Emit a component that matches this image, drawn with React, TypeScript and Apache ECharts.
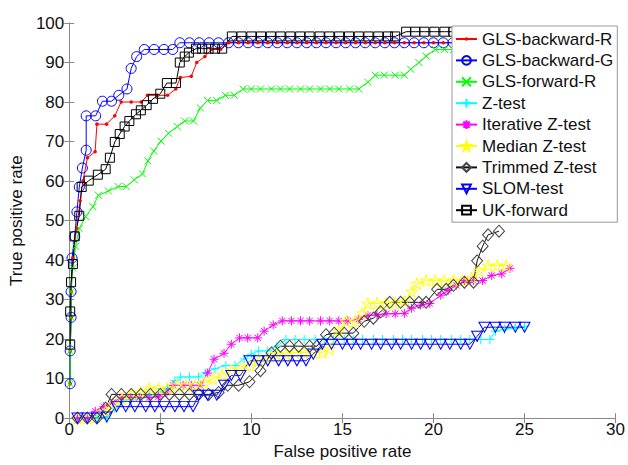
import React, { useEffect, useRef } from "react";
import * as echarts from "echarts";

type Pt = [number, number];

// ROC points: [false positive rate, true positive rate]
const glsBackwardR: Pt[] = [
  [0.05, 8.7], [0.05, 17], [0.1, 25.5], [0.1, 32], [0.2, 40.5], [0.4, 48], [0.6, 55], [0.75, 60],
  [1.0, 65.9], [1.42, 67.4], [1.52, 74.4], [2.05, 74.4], [2.5, 76.5], [2.85, 80], [3.4, 80], [3.95, 80],
  [4.3, 81.7], [4.85, 81.7], [5.4, 81.7], [5.85, 83.3], [6.1, 86.2], [6.7, 86.5], [7.0, 90], [7.45, 91.5],
  [7.8, 93.3], [8.3, 93.3], [8.75, 95], [9.29, 95], [9.82, 95], [10.36, 95], [10.9, 95], [11.43, 95],
  [11.97, 95], [12.5, 95], [13.04, 95], [13.57, 95], [14.1, 95], [14.65, 95], [15.18, 95], [15.72, 95],
  [16.25, 95], [16.8, 95], [17.33, 95], [17.86, 95], [18.4, 95], [18.94, 95], [19.47, 95], [20.0, 95],
  [20.54, 95], [21.08, 95], [21.6, 95], [22.15, 95], [22.7, 95], [23.2, 95], [23.75, 95], [24.3, 95],
];

const glsBackwardG: Pt[] = [
  [0.05, 8.7], [0.05, 17], [0.1, 25.5], [0.1, 32], [0.15, 40.5], [0.3, 46], [0.42, 52.2], [0.55, 58.5],
  [0.72, 63.3], [0.93, 67.8], [0.93, 76.5], [1.45, 76.5], [1.82, 80.2], [2.32, 80.2], [2.72, 81.7],
  [3.17, 83.3], [3.4, 88.5], [3.7, 91.5], [4.12, 93.3], [4.66, 93.3], [5.2, 93.3], [5.68, 93.3],
  [6.07, 95], [6.6, 95], [7.14, 95], [7.68, 95], [8.2, 95], [8.75, 95], [9.29, 95], [9.82, 95],
  [10.36, 95], [10.9, 95], [11.43, 95], [11.97, 95], [12.5, 95], [13.04, 95], [13.57, 95], [14.1, 95],
  [14.65, 95], [15.18, 95], [15.72, 95], [16.25, 95], [16.8, 95], [17.33, 95], [17.86, 95], [18.4, 95],
  [18.94, 95], [19.47, 95], [20.0, 95], [20.54, 95], [21.08, 95], [21.6, 95], [22.15, 95], [22.7, 95],
  [23.2, 95], [23.75, 95], [24.3, 95],
];

const glsForwardR: Pt[] = [
  [0.05, 8.7], [0.05, 17], [0.1, 25.5], [0.1, 32], [0.2, 38], [0.35, 43.5], [0.55, 48], [0.9, 51],
  [1.3, 53.5], [1.6, 56.4], [2.15, 57.5], [2.68, 58.6], [3.13, 58.6], [3.57, 60.3], [4.02, 61.8],
  [4.32, 65.1], [4.64, 67.6], [5.04, 70.1], [5.45, 72.1], [5.93, 73.8], [6.34, 75.2], [6.82, 75.2],
  [7.2, 78.5], [7.59, 80.4], [8.1, 80.4], [8.57, 81.7], [9.06, 81.7], [9.55, 83.3], [10.0, 83.3],
  [10.5, 83.3], [11.1, 83.3], [11.6, 83.3], [12.1, 83.3], [12.7, 83.3], [13.2, 83.3], [13.8, 83.3],
  [14.3, 83.3], [14.8, 83.3], [15.4, 83.3], [15.9, 83.3], [16.4, 85], [16.8, 86.8], [17.3, 86.8],
  [17.9, 86.8], [18.4, 86.8], [18.75, 88.3], [19.2, 90], [19.6, 91.6], [20.1, 93.3], [20.6, 93.3],
  [21.1, 93.3], [21.6, 95], [22.2, 95], [22.7, 95], [23.2, 95], [23.8, 95],
];

const zTest: Pt[] = [
  [0.45, 0], [0.99, 0], [1.52, 0], [2.06, 0], [2.5, 2.5], [2.9, 4.6], [3.4, 4.6], [3.9, 5], [4.4, 5.8],
  [4.9, 6.5], [5.4, 7.5], [5.8, 9.5], [6.1, 10.4], [6.6, 10.4], [7.1, 10.4], [7.5, 11.5], [8.0, 12.5],
  [8.6, 13.3], [9.1, 13.3], [9.6, 15], [10.0, 16.2], [10.4, 17], [10.9, 17], [11.4, 18.2], [11.9, 19.9],
  [12.4, 19.9], [12.9, 19.9], [13.5, 19.9], [14.0, 19.9], [14.5, 19.9], [15.1, 19.9], [15.6, 19.9],
  [16.1, 19.9], [16.7, 19.9], [17.2, 19.9], [17.8, 19.9], [18.3, 19.9], [18.8, 19.9], [19.4, 19.9],
  [19.9, 19.9], [20.4, 19.9], [21.0, 19.9], [21.5, 19.9], [22.0, 19.9], [22.6, 19.9], [23.1, 19.9],
  [23.4, 22], [23.9, 22.5], [24.5, 22.8], [25.0, 23.2],
];

const iterativeZ: Pt[] = [
  [0.45, 0], [0.99, 0], [1.43, 1.7], [1.9, 2.9], [2.4, 4], [2.86, 5.2], [3.35, 5.2], [3.85, 5.2],
  [4.38, 5.2], [4.9, 5.4], [5.36, 6.6], [5.7, 8.3], [6.25, 8.3], [6.7, 8.3], [7.2, 8.3], [7.6, 11.4],
  [7.95, 14.9], [8.5, 16.4], [8.9, 18.7], [9.35, 20.3], [9.8, 20.3], [10.35, 20.3], [10.7, 22],
  [11.2, 23.6], [11.7, 24.6], [12.2, 24.6], [12.7, 24.6], [13.2, 24.6], [13.8, 24.6], [14.3, 24.6],
  [14.8, 24.6], [15.3, 24.6], [15.9, 25], [16.4, 26], [16.9, 26.1], [17.4, 26.4], [17.9, 26.4],
  [18.4, 26.5], [18.8, 27.8], [19.3, 28.6], [19.8, 29], [20.4, 31.1], [20.8, 32.3], [21.25, 33.6],
  [21.7, 34.8], [22.2, 34.8], [22.7, 34.8], [23.2, 36.1], [23.75, 36.5], [24.2, 37.9],
];

const medianZ: Pt[] = [
  [0.45, 0], [0.99, 0], [1.5, 0.5], [2.0, 1.7], [2.4, 3.5], [2.9, 5], [3.4, 5.8], [3.9, 6.5],
  [4.4, 7.5], [4.9, 7.5], [5.4, 7.5], [5.9, 8.3], [6.4, 8.3], [6.9, 8.3], [7.4, 9], [7.9, 10],
  [8.4, 11], [8.9, 12], [9.4, 12.5], [9.9, 13.3], [10.4, 14.5], [10.9, 15.5], [11.4, 16.2],
  [11.9, 16.2], [12.4, 16.6], [12.9, 16.6], [13.4, 16.6], [13.9, 16.6], [14.3, 17.5], [14.8, 22],
  [15.2, 24.5], [15.7, 24.5], [16.1, 26.5], [16.4, 29], [16.9, 29], [17.4, 29], [17.9, 29],
  [18.4, 29.5], [18.8, 32], [19.1, 34], [19.6, 34.8], [20.1, 34.8], [20.6, 34.8], [21.1, 34.8],
  [21.6, 34.8], [22.1, 35.5], [22.5, 37.3], [23.0, 38.6], [23.5, 38.6], [24.0, 38.6],
];

const trimmedZ: Pt[] = [
  [0.45, 0], [0.99, 0], [1.52, 0], [2.0, 2.5], [2.32, 6], [2.86, 6], [3.4, 6], [3.93, 6], [4.45, 6],
  [5.0, 6], [5.5, 6], [6.05, 6], [6.6, 6], [7.1, 6], [7.65, 6], [8.2, 6.5], [8.7, 8.3], [9.3, 8.3],
  [9.9, 9.2], [10.5, 12], [11.1, 16.5], [11.6, 18.2], [12.1, 18.2], [12.6, 18.2], [13.2, 18.2],
  [13.6, 18.2], [14.1, 21.1], [14.55, 21.5], [15.1, 21.5], [15.6, 21.5], [16.2, 24.5], [16.7, 25.3],
  [17.1, 26.9], [17.6, 29.3], [18.2, 29.3], [18.7, 29.3], [19.2, 29.3], [19.6, 29.3], [20.2, 32.6],
  [20.7, 32.6], [21.1, 33.6], [21.7, 34.4], [22.2, 34.4], [22.4, 39.8], [22.7, 43.5], [23.0, 46.4],
  [23.6, 47.3],
];

const slomTest: Pt[] = [
  [0.45, 0], [0.99, 0], [1.52, 0], [2.06, 0.3], [2.6, 2.9], [3.1, 2.9], [3.6, 2.9], [4.2, 2.9],
  [4.7, 2.9], [5.2, 2.9], [5.8, 2.9], [6.3, 2.9], [6.8, 2.9], [7.1, 5.8], [7.6, 5.8], [8.1, 5.8],
  [8.5, 8.3], [8.9, 10.8], [9.4, 10.8], [9.9, 14.5], [10.4, 14.5], [10.9, 14.5], [11.5, 14.5],
  [12.0, 14.5], [12.5, 14.5], [13.0, 14.5], [13.4, 16.2], [13.9, 18.7], [14.4, 18.7], [15.0, 18.7],
  [15.5, 18.7], [16.0, 18.7], [16.6, 18.7], [17.1, 18.7], [17.7, 18.7], [18.2, 18.7], [18.8, 18.7],
  [19.3, 18.7], [19.8, 18.7], [20.4, 18.7], [20.9, 18.7], [21.5, 18.7], [22.0, 18.7], [22.4, 20.7],
  [22.8, 23], [23.4, 23], [23.9, 23], [24.5, 23], [25.0, 23],
];

const ukForward: Pt[] = [
  [0.05, 18.6], [0.05, 27], [0.1, 34.4], [0.2, 39], [0.3, 46], [0.55, 51.2], [0.68, 58.5], [1.07, 60.1],
  [1.57, 61.6], [2.0, 63], [2.23, 65.9], [2.5, 69.9], [2.77, 71.9], [3.04, 73.8], [3.3, 75.2],
  [3.66, 76.9], [3.93, 77.9], [4.25, 79.2], [4.6, 80.8], [5.0, 82.1], [5.36, 84.8], [5.86, 84.8],
  [6.07, 90], [6.34, 91.5], [6.57, 92.5], [6.96, 93.5], [7.3, 93.5], [7.65, 93.5], [8.0, 93.5],
  [8.4, 93.5], [8.93, 96.6], [9.46, 96.6], [10.0, 96.6], [10.53, 96.6], [11.07, 96.6], [11.6, 96.6],
  [12.14, 96.6], [12.68, 96.6], [13.2, 96.6], [13.75, 96.6], [14.28, 96.6], [14.82, 96.6],
  [15.36, 96.6], [15.9, 96.6], [16.43, 96.6], [16.97, 96.6], [17.5, 96.6], [17.9, 96.6], [18.5, 97.8],
  [19.0, 97.8], [19.5, 97.8], [20.05, 97.8], [20.6, 97.8], [21.1, 97.8], [21.65, 97.8], [22.2, 97.8],
  [22.7, 97.8], [23.25, 97.8], [23.8, 97.8],
];

const FONT = "'Liberation Sans', Arial, sans-serif";
const AXIS_GREY = "#8a8a8a";

// Marker outlines. The dot keeps an empty frame so that it stays small in the legend too.
const SYM_DOT = "path://M0,0M10,10M3,5A2,2,0,1,1,7,5A2,2,0,1,1,3,5Z";
const SYM_CROSS = "path://M0,0L10,10M10,0L0,10";
const SYM_PLUS = "path://M5,0L5,10M0,5L10,5";
const SYM_STAR = "path://M5,0L5,10M0,5L10,5M1.5,1.5L8.5,8.5M8.5,1.5L1.5,8.5";
const SYM_PENTAGRAM =
  "path://M5,0L6.18,3.62L10,3.62L6.91,5.86L8.09,9.51L5,7.26L1.91,9.51L3.09,5.86L0,3.62L3.82,3.62Z";
const SYM_TRI_DOWN = "path://M0,0L10,0L5,8.66Z";

function lineSeries(
  name: string,
  data: Pt[],
  color: string,
  symbol: string,
  size: number | number[],
  opts: { filled?: boolean; markerColor?: string } = {}
) {
  const mc = opts.markerColor || color;
  return {
    name,
    type: "line",
    data,
    symbol,
    symbolSize: size,
    showAllSymbol: true,
    clip: true,
    lineStyle: { color, width: 1 },
    itemStyle: opts.filled
      ? { color: mc }
      : { color: "rgba(255,255,255,0)", borderColor: mc, borderWidth: 1 },
    emphasis: { disabled: true },
  };
}

function App() {
  const ref = useRef<HTMLDivElement>(null);

  useEffect(() => {
    if (!ref.current) return;
    const chart = echarts.init(ref.current, null, { renderer: "svg" });

    const tickLabel = { fontFamily: FONT, fontSize: 17, color: "#111" };
    const axisBase = {
      type: "value",
      axisLine: { show: true, lineStyle: { color: AXIS_GREY, width: 1 } },
      axisTick: { show: true, inside: true, length: 5, lineStyle: { color: AXIS_GREY } },
      splitLine: { show: false },
    };

    chart.setOption({
      animation: false,
      backgroundColor: "#ffffff",
      grid: { left: 63, right: 5, top: 23, bottom: 40 },
      xAxis: [
        {
          ...axisBase,
          position: "bottom",
          min: 0,
          max: 30,
          interval: 5,
          axisLabel: { ...tickLabel, margin: 3 },
          name: "False positive rate",
          nameLocation: "middle",
          nameGap: 19,
          nameTextStyle: { fontFamily: FONT, fontSize: 17, color: "#111" },
        },
        {
          ...axisBase,
          position: "top",
          min: 0,
          max: 30,
          interval: 5,
          axisLabel: { show: false },
        },
      ],
      yAxis: [
        {
          ...axisBase,
          position: "left",
          min: 0,
          max: 100,
          interval: 10,
          axisLabel: { ...tickLabel, margin: 5 },
          name: "True positive rate",
          nameLocation: "middle",
          nameGap: 35,
          nameTextStyle: { fontFamily: FONT, fontSize: 17, color: "#111" },
        },
        {
          ...axisBase,
          position: "right",
          min: 0,
          max: 100,
          interval: 10,
          axisLabel: { show: false },
        },
      ],
      legend: {
        orient: "vertical",
        left: 452,
        top: 26,
        backgroundColor: "#ffffff",
        borderColor: "#999999",
        borderWidth: 1,
        borderRadius: 0,
        padding: [4, 4, 3, 3],
        itemGap: 3.4,
        itemWidth: 21,
        itemHeight: 11,
        selectedMode: false,
        textStyle: { fontFamily: FONT, fontSize: 17, color: "#111", lineHeight: 18 },
      },
      series: [
        lineSeries("GLS-backward-R", glsBackwardR, "#ff0000", SYM_DOT, 9, { filled: true }),
        lineSeries("GLS-backward-G", glsBackwardG, "#0000ff", "circle", 10),
        lineSeries("GLS-forward-R", glsForwardR, "#00ff00", SYM_CROSS, 7),
        lineSeries("Z-test", zTest, "#00ffff", SYM_PLUS, 9),
        lineSeries("Iterative Z-test", iterativeZ, "#ff00ff", SYM_STAR, 9),
        lineSeries("Median Z-test", medianZ, "#ffff00", SYM_PENTAGRAM, 12),
        lineSeries("Trimmed Z-test", trimmedZ, "#111111", "diamond", [11, 12], { markerColor: "#444444" }),
        lineSeries("SLOM-test", slomTest, "#0000ff", SYM_TRI_DOWN, [11, 10]),
        lineSeries("UK-forward", ukForward, "#000000", "rect", 9),
      ],
    });

    return () => chart.dispose();
  }, []);

  return (
    <div
      ref={ref}
      style={{ position: "fixed", left: 0, top: 0, width: 628, height: 465, background: "#fff" }}
    />
  );
}

export default App;
